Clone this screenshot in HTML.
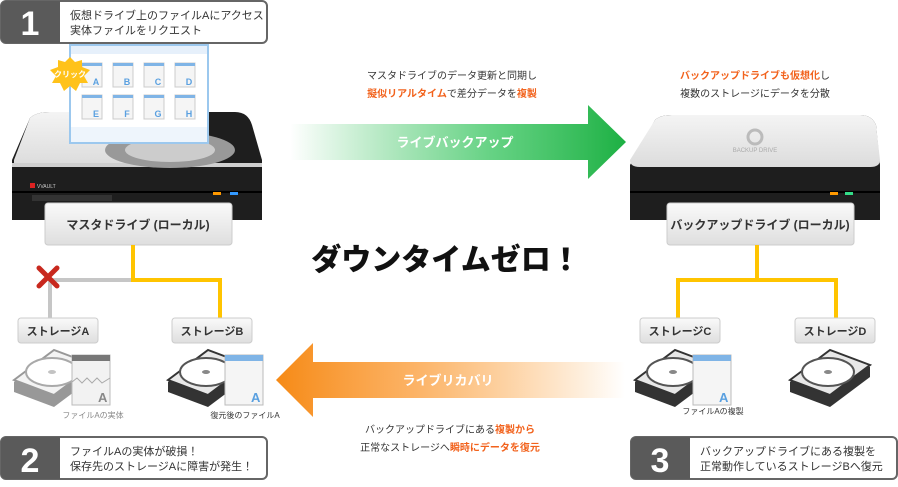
<!DOCTYPE html>
<html><head><meta charset="utf-8">
<style>
body{margin:0;width:898px;height:482px;background:#fff;overflow:hidden;font-family:"Liberation Sans","Noto Sans CJK JP",sans-serif;}
svg text{font-family:"Liberation Sans","Noto Sans CJK JP",sans-serif;}
</style></head><body>
<svg width="898" height="482" viewBox="0 0 898 482" xmlns="http://www.w3.org/2000/svg">
<defs>
<linearGradient id="gA" x1="0" x2="1"><stop offset="0" stop-color="#2fbf55" stop-opacity="0"/><stop offset="0.6" stop-color="#3fc765" stop-opacity="0.8"/><stop offset="1" stop-color="#1db043"/></linearGradient>
<linearGradient id="oA" x1="1" x2="0"><stop offset="0" stop-color="#fb9a2b" stop-opacity="0"/><stop offset="0.6" stop-color="#fba040" stop-opacity="0.8"/><stop offset="1" stop-color="#f68a16"/></linearGradient>
<linearGradient id="lbl" x1="0" y1="0" x2="0" y2="1"><stop offset="0" stop-color="#fafafa"/><stop offset="1" stop-color="#dedede"/></linearGradient>
<linearGradient id="top" x1="0" y1="0" x2="0" y2="1"><stop offset="0" stop-color="#f4f4f4"/><stop offset="1" stop-color="#dcdcdc"/></linearGradient>
<g id="doc"><rect x="0" y="0" width="20" height="24" fill="#f5f5f5" stroke="#ccc"/><rect x="0" y="0" width="20" height="3" fill="#7fb4e6"/></g>
<g id="disk"><polygon points="0,30 40,0 80,15 80,25 40,55 0,40" fill="#333"/><polygon points="0,28 40,-2 80,13 40,43" fill="#e8e8e8" stroke="#333" stroke-width="2"/><ellipse cx="38" cy="20" rx="26" ry="14" fill="#fff" stroke="#555" stroke-width="2"/><ellipse cx="38" cy="20" rx="4" ry="2" fill="#888"/></g>
</defs>

<rect x="1" y="1" width="266" height="42" rx="5" fill="#fff" stroke="#666" stroke-width="2"/>
<path d="M6,1 H60 V43 H6 a5,5 0 0 1 -5,-5 V6 a5,5 0 0 1 5,-5z" fill="#5a5a5a"/>
<text x="30" y="35" font-size="34" font-weight="bold" fill="#fff" text-anchor="middle">1</text>
<text x="70" y="19" font-size="11" fill="#333">仮想ドライブ上のファイルAにアクセス</text>
<text x="70" y="34" font-size="11" fill="#333">実体ファイルをリクエスト</text>

<rect x="1" y="437" width="266" height="42" rx="5" fill="#fff" stroke="#666" stroke-width="2"/>
<path d="M6,437 H60 V479 H6 a5,5 0 0 1 -5,-5 V442 a5,5 0 0 1 5,-5z" fill="#5a5a5a"/>
<text x="30" y="472" font-size="34" font-weight="bold" fill="#fff" text-anchor="middle">2</text>
<text x="70" y="455" font-size="11" fill="#333">ファイルAの実体が破損！</text>
<text x="70" y="470" font-size="11" fill="#333">保存先のストレージAに障害が発生！</text>

<rect x="631" y="437" width="266" height="42" rx="5" fill="#fff" stroke="#666" stroke-width="2"/>
<path d="M636,437 H690 V479 H636 a5,5 0 0 1 -5,-5 V442 a5,5 0 0 1 5,-5z" fill="#5a5a5a"/>
<text x="660" y="472" font-size="34" font-weight="bold" fill="#fff" text-anchor="middle">3</text>
<text x="700" y="455" font-size="11" fill="#333">バックアップドライブにある複製を</text>
<text x="700" y="470" font-size="11" fill="#333">正常動作しているストレージBへ復元</text>

<!-- Master drive -->
<path d="M30,118 Q36,112 50,112 H235 Q248,112 252,125 L262,160 V220 H12 V160z" fill="#1e1e1e"/>
<path d="M14,160 L30,118 Q36,112 50,112 H200 L200,165 H14z" fill="url(#top)"/>
<rect x="12" y="163" width="250" height="4" fill="#cfcfcf"/>
<ellipse cx="170" cy="150" rx="65" ry="18" fill="#999"/>
<ellipse cx="170" cy="150" rx="45" ry="12" fill="#ccc"/>
<line x1="12" y1="192" x2="262" y2="192" stroke="#000" stroke-width="2"/>
<rect x="30" y="183" width="5" height="5" fill="#d22"/><text x="37" y="188" font-size="5" fill="#ccc">VVAULT</text>
<rect x="213" y="192" width="8" height="3" fill="#f90"/><rect x="230" y="192" width="8" height="3" fill="#39f"/>
<rect x="32" y="195" width="80" height="6" fill="#333"/>
<rect x="70" y="45" width="138" height="98" fill="#fff" stroke="#9cc8ee" stroke-width="2"/>
<rect x="71" y="46" width="136" height="8" fill="#e6f0fb"/>
<rect x="71" y="127" width="136" height="15" fill="#eef5fc"/>
<g font-size="9" font-weight="bold" fill="#5aa0e0" text-anchor="middle">
<use href="#doc" x="82" y="63"/><text x="96" y="85">A</text>
<use href="#doc" x="113" y="63"/><text x="127" y="85">B</text>
<use href="#doc" x="144" y="63"/><text x="158" y="85">C</text>
<use href="#doc" x="175" y="63"/><text x="189" y="85">D</text>
<use href="#doc" x="82" y="95"/><text x="96" y="117">E</text>
<use href="#doc" x="113" y="95"/><text x="127" y="117">F</text>
<use href="#doc" x="144" y="95"/><text x="158" y="117">G</text>
<use href="#doc" x="175" y="95"/><text x="189" y="117">H</text>
</g>
<polygon points="70,57 75,62 82,60 82,67 90,70 84,76 88,83 80,83 76,91 70,86 64,91 60,83 52,83 56,76 50,70 58,67 58,60 65,62" fill="#ffc21a"/>
<text x="70" y="77" font-size="8" font-weight="bold" fill="#fff" text-anchor="middle">クリック</text>
<rect x="45" y="203" width="187" height="42" rx="3" fill="url(#lbl)" stroke="#ccc"/>
<text x="138" y="229" font-size="12" font-weight="bold" fill="#333" text-anchor="middle">マスタドライブ (ローカル)</text>

<!-- Backup drive -->
<path d="M630,165 L655,120 Q660,115 672,115 H860 Q872,115 876,125 L880,165 V220 H630z" fill="#1e1e1e"/>
<path d="M630,160 L655,120 Q660,115 672,115 H860 Q872,115 876,125 L880,160 Q880,167 870,167 H640 Q630,167 630,160z" fill="url(#top)"/>
<circle cx="755" cy="137" r="7" fill="none" stroke="#bbb" stroke-width="3"/>
<text x="755" y="152" font-size="6" fill="#aaa" text-anchor="middle">BACKUP DRIVE</text>
<line x1="630" y1="192" x2="880" y2="192" stroke="#000" stroke-width="2"/>
<rect x="830" y="192" width="8" height="3" fill="#f90"/><rect x="845" y="192" width="8" height="3" fill="#3d8"/>
<rect x="667" y="203" width="187" height="42" rx="3" fill="url(#lbl)" stroke="#ccc"/>
<text x="760" y="229" font-size="12" font-weight="bold" fill="#333" text-anchor="middle">バックアップドライブ (ローカル)</text>

<polyline points="133,280 50,280 50,320" fill="none" stroke="#c6c6c6" stroke-width="4"/>
<polyline points="133,245 133,280 220,280 220,320" fill="none" stroke="#ffc400" stroke-width="4"/>
<polyline points="757,245 757,280 678,280 678,320" fill="none" stroke="#ffc400" stroke-width="4"/>
<polyline points="757,280 836,280 836,320" fill="none" stroke="#ffc400" stroke-width="4"/>
<g stroke="#c8281e" stroke-width="5" stroke-linecap="round"><line x1="39" y1="268" x2="57" y2="286"/><line x1="57" y1="268" x2="39" y2="286"/></g>

<g font-size="11" font-weight="bold" fill="#333" text-anchor="middle">
<rect x="18" y="318" width="80" height="25" rx="3" fill="url(#lbl)" stroke="#ccc"/><text x="58" y="335">ストレージA</text>
<rect x="172" y="318" width="80" height="25" rx="3" fill="url(#lbl)" stroke="#ccc"/><text x="212" y="335">ストレージB</text>
<rect x="640" y="318" width="80" height="25" rx="3" fill="url(#lbl)" stroke="#ccc"/><text x="680" y="335">ストレージC</text>
<rect x="795" y="318" width="80" height="25" rx="3" fill="url(#lbl)" stroke="#ccc"/><text x="835" y="335">ストレージD</text>
</g>
<g opacity="0.5"><use href="#disk" x="14" y="352"/></g>
<use href="#disk" x="168" y="352"/>
<use href="#disk" x="635" y="352"/>
<use href="#disk" x="790" y="352"/>
<rect x="72" y="355" width="38" height="50" fill="#f2f2f2" stroke="#bbb"/><rect x="72" y="355" width="38" height="6" fill="#777"/>
<polyline points="72,382 77,378 82,383 87,378 92,383 97,378 102,383 110,378" fill="none" stroke="#aaa"/>
<text x="98" y="402" font-size="13" font-weight="bold" fill="#888">A</text>
<rect x="225" y="355" width="38" height="50" fill="#f5f5f5" stroke="#bbb"/><rect x="225" y="355" width="38" height="6" fill="#7fb4e6"/>
<text x="251" y="402" font-size="13" font-weight="bold" fill="#5aa0e0">A</text>
<rect x="693" y="355" width="38" height="50" fill="#f5f5f5" stroke="#bbb"/><rect x="693" y="355" width="38" height="6" fill="#7fb4e6"/>
<text x="719" y="402" font-size="13" font-weight="bold" fill="#5aa0e0">A</text>
<g font-size="8" text-anchor="middle">
<text x="93" y="418" fill="#888">ファイルAの実体</text>
<text x="245" y="418" fill="#333">復元後のファイルA</text>
<text x="713" y="414" fill="#333">ファイルAの複製</text>
</g>

<polygon points="290,124 588,124 588,105 626,142 588,179 588,160 290,160" fill="url(#gA)"/>
<text x="455" y="147" font-size="13" font-weight="bold" fill="#fff" text-anchor="middle">ライブバックアップ</text>
<text x="452" y="79" font-size="10" fill="#333" text-anchor="middle">マスタドライブのデータ更新と同期し</text>
<text x="452" y="97" font-size="10" fill="#333" text-anchor="middle"><tspan fill="#f2621c" font-weight="bold">擬似リアルタイム</tspan>で差分データを<tspan fill="#f2621c" font-weight="bold">複製</tspan></text>
<text x="755" y="79" font-size="10" fill="#333" text-anchor="middle"><tspan fill="#f2621c" font-weight="bold">バックアップドライブも仮想化</tspan>し</text>
<text x="755" y="97" font-size="10" fill="#333" text-anchor="middle">複数のストレージにデータを分散</text>

<polygon points="625,362 313,362 313,343 276,380 313,417 313,398 625,398" fill="url(#oA)"/>
<text x="448" y="385" font-size="13" font-weight="bold" fill="#fff" text-anchor="middle">ライブリカバリ</text>
<text x="450" y="433" font-size="10" fill="#333" text-anchor="middle">バックアップドライブにある<tspan fill="#f2621c" font-weight="bold">複製から</tspan></text>
<text x="450" y="451" font-size="10" fill="#333" text-anchor="middle">正常なストレージへ<tspan fill="#f2621c" font-weight="bold">瞬時にデータを復元</tspan></text>

<text x="446" y="270" font-size="30" font-weight="900" fill="#111" text-anchor="middle" style="font-family:'Noto Sans CJK JP',sans-serif">ダウンタイムゼロ！</text>
</svg>
</body></html>
